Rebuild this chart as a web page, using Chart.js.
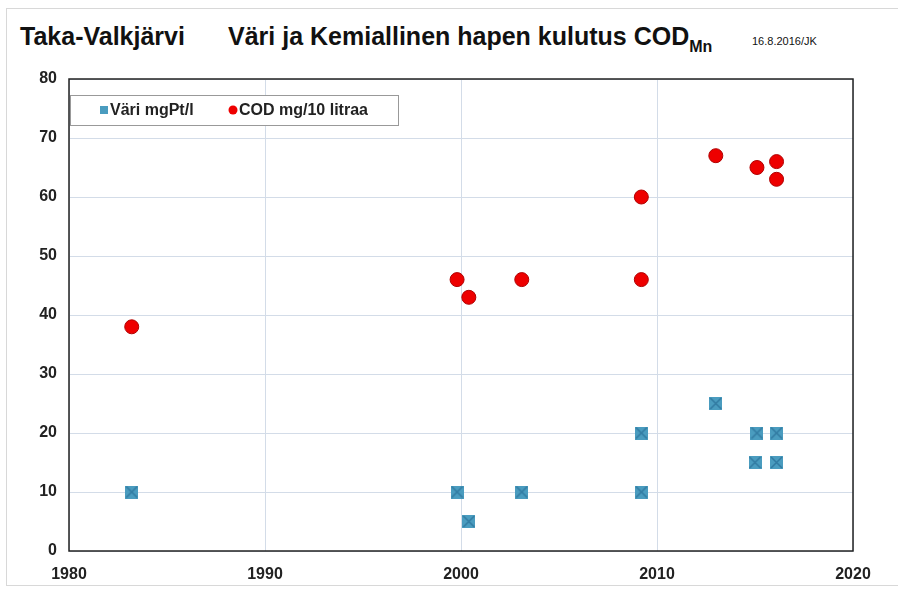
<!DOCTYPE html>
<html>
<head>
<meta charset="utf-8">
<script src="https://cdn.jsdelivr.net/npm/chart.js@4"></script>
<style>
  html, body { margin: 0; padding: 0; background: #fff; }
  #wrap { position: relative; width: 898px; height: 590px; }
  #frame { position: absolute; left: 6px; top: 8px; right: 0; bottom: 4px; border: 1px solid #d8d8d8; border-right: none; }
  #title { position: absolute; left: 20px; top: 22px; font-family: "Liberation Sans", Arial, sans-serif; font-weight: bold; font-size: 25px; color: #111; white-space: nowrap; }
  #title .main { position: absolute; left: 208px; top: 0; }
  #title sub { font-size: 16px; vertical-align: -7px; }
  #title .date { position: absolute; left: 732px; top: 13px; font-size: 11px; font-weight: normal; }
  canvas { position: absolute; left: 0; top: 0; }
</style>
</head>
<body>
<div id="wrap">
  <div id="frame"></div>
  <div id="title">Taka-Valkjärvi<span class="main">Väri ja Kemiallinen hapen kulutus COD<sub>Mn</sub></span><span class="date">16.8.2016/JK</span></div>
  <canvas id="mainChart" width="898" height="590"></canvas>
</div>
<script>
// Data
const variYears = [1983.2, 1999.8, 2000.4, 2003.1, 2009.2, 2009.2, 2013.0, 2015.1, 2015.0, 2016.1, 2016.1];
const variValues = [10, 10, 5, 10, 20, 10, 25, 20, 15, 20, 15];
const codYears = [1983.2, 1999.8, 2000.4, 2003.1, 2009.2, 2009.2, 2013.0, 2015.1, 2016.1, 2016.1];
const codValues = [38, 46, 43, 46, 60, 46, 67, 65, 66, 63];
const xTicks = [1980, 1990, 2000, 2010, 2020];
const yTicks = [0, 10, 20, 30, 40, 50, 60, 70, 80];

const tickFont = { family: '"Liberation Sans", Arial, sans-serif', weight: 'bold', size: 16 };

// Square marker with a faint X, like the spreadsheet original
function squareX(color) {
    const c = document.createElement('canvas');
    c.width = 13; c.height = 13;
    const g = c.getContext('2d');
    g.fillStyle = color;
    g.fillRect(0, 0, 13, 13);
    g.strokeStyle = 'rgba(40,110,150,0.7)';
    g.lineWidth = 1.5;
    g.beginPath();
    g.moveTo(1, 1); g.lineTo(12, 12);
    g.moveTo(12, 1); g.lineTo(1, 12);
    g.stroke();
    return c;
}

const plotBox = {
    id: 'plotBox',
    afterDatasetsDraw(chart) {
        const { ctx, chartArea: a } = chart;
        ctx.save();
        ctx.strokeStyle = '#222';
        ctx.lineWidth = 1.5;
        ctx.strokeRect(a.left, a.top, a.right - a.left, a.bottom - a.top);
        ctx.restore();
    }
};

document.addEventListener('DOMContentLoaded', () => {
    const ctx = document.getElementById('mainChart');
    const squareImg = squareX('#4a9cbf');

    new Chart(ctx, {
        type: 'scatter',
        data: {
            datasets: [{
                label: 'Väri mgPt/l',
                data: variYears.map((x, i) => ({ x, y: variValues[i] })),
                pointStyle: squareImg,
                backgroundColor: '#4a9cbf',
                borderColor: '#4a9cbf'
            }, {
                label: 'COD mg/10 litraa',
                data: codYears.map((x, i) => ({ x, y: codValues[i] })),
                pointStyle: 'circle',
                pointRadius: 7,
                backgroundColor: '#ee0000',
                borderColor: '#b00000',
                borderWidth: 1
            }]
        },
        options: {
            responsive: false,
            animation: false,
            layout: { padding: { top: 79, right: 45, bottom: 3, left: 0 } },
            plugins: {
                legend: { display: false },
                tooltip: { enabled: false }
            },
            scales: {
                x: {
                    type: 'linear',
                    min: 1980, max: 2020,
                    afterBuildTicks: s => { s.ticks = xTicks.map(v => ({ value: v })); },
                    grid: { color: '#d3dce8', lineWidth: 1, drawTicks: false },
                    border: { display: false },
                    ticks: { color: '#222', font: tickFont, padding: 14, callback: v => String(v) },
                    afterFit: s => { s.height = 36; }
                },
                y: {
                    min: 0, max: 80,
                    afterBuildTicks: s => { s.ticks = yTicks.map(v => ({ value: v })); },
                    grid: { color: '#d3dce8', lineWidth: 1, drawTicks: false },
                    border: { display: false },
                    ticks: { color: '#222', font: tickFont, padding: 12 },
                    afterFit: s => { s.width = 69; }
                }
            }
        },
        plugins: [plotBox, {
            id: 'legendBox',
            afterDraw(chart) {
                const c = chart.ctx;
                const a = chart.chartArea;
                const x0 = a.left + 1, y0 = a.top + 16, w = 328, h = 30;
                c.save();
                c.fillStyle = '#fff';
                c.fillRect(x0, y0, w, h);
                c.strokeStyle = '#999';
                c.lineWidth = 1;
                c.strokeRect(x0 + 0.5, y0 + 0.5, w, h);
                c.font = 'bold 16px "Liberation Sans", Arial, sans-serif';
                c.textBaseline = 'middle';
                c.fillStyle = '#4a9cbf';
                c.fillRect(x0 + 30, y0 + 11, 8, 8);
                c.fillStyle = '#222';
                c.fillText(chart.data.datasets[0].label, x0 + 40, y0 + 16);
                c.fillStyle = '#ee0000';
                c.beginPath();
                c.arc(x0 + 163, y0 + 15, 4.5, 0, Math.PI * 2);
                c.fill();
                c.fillStyle = '#222';
                c.fillText(chart.data.datasets[1].label, x0 + 169, y0 + 16);
                c.restore();
            }
        }]
    });
});
</script>
</body>
</html>
